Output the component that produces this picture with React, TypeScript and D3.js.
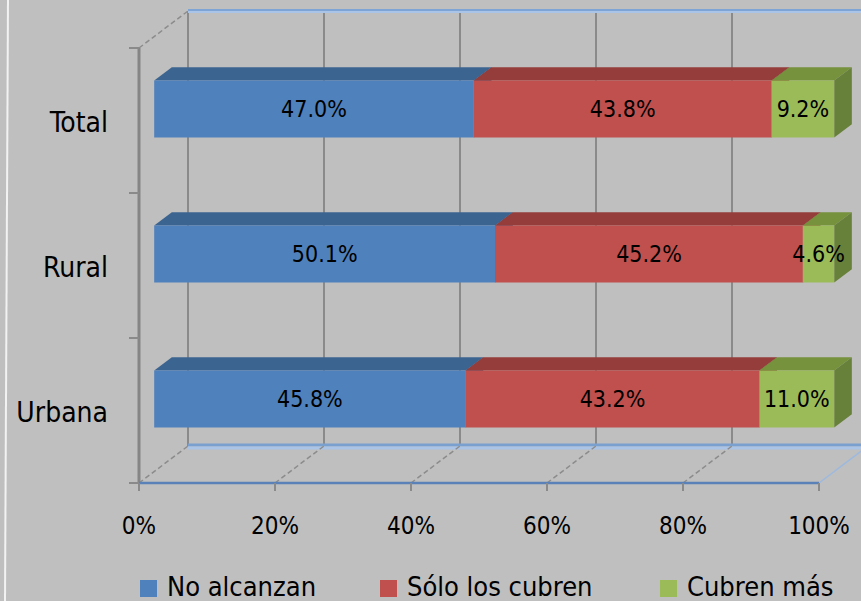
import React from 'react'
import * as d3 from 'd3'

const categories = ['Total', 'Rural', 'Urbana']
const seriesNames = ['No alcanzan', 'Sólo los cubren', 'Cubren más']
const noAlcanzan = [47.0, 50.1, 45.8]
const soloCubren = [43.8, 45.2, 43.2]
const cubrenMas = [9.2, 4.6, 11.0]
const xTicks = [0, 0.2, 0.4, 0.6, 0.8, 1]

const keys = ['a', 'b', 'c']
const front = ['#4f81bd', '#c0504d', '#9bbb59']
const topCol = ['#3c6491', '#943d3a', '#76923c']
const sideCol = ['#355a84', '#82332f', '#67803a']

const W = 861
const H = 601
// projection of the depth axis
const DX = 49
const DY = -37
const Z0 = 0.31
const Z1 = 0.67
const FONT = "'DejaVu Sans Condensed', 'DejaVu Sans', sans-serif"

const App = () => {
    const x = d3.scaleLinear().domain([0, 1]).range([139, 819])
    const y = d3.scaleBand()
        .domain(categories)
        .range([48, 483])
        .paddingInner(0.607)
        .paddingOuter(0.3035)
    const yCat = d3.scaleBand().domain(categories).range([48, 483])

    const rows = categories.map((cat, i) => ({ cat, a: noAlcanzan[i], b: soloCubren[i], c: cubrenMas[i] }))
    const series = d3.stack().keys(keys).offset(d3.stackOffsetExpand)(rows)
    const raw = [noAlcanzan, soloCubren, cubrenMas]

    const pt = (px, py, z) => [px + z * DX, py + z * DY]
    const poly = pts => pts.map(p => p.join(',')).join(' ')
    const pct = v => d3.format('.1f')(v) + '%'

    const gridTop = 48 + DY
    const gridBottom = 483 + DY

    return (
        <svg width={W} height={H} style={{ position: 'absolute', left: 0, top: 0, background: '#bfbfbf' }} fontFamily={FONT} fontStretch="condensed">
            <rect x={0} y={0} width={W} height={H} fill="#bfbfbf" />
            <line x1={8} y1={0} x2={5} y2={H} stroke="#f2f2f2" strokeWidth={2} />

            {/* back wall gridlines */}
            {xTicks.map(t => (
                <line key={'g' + t} x1={x(t) + DX} x2={x(t) + DX} y1={gridTop} y2={gridBottom} stroke="#8a8a8a" strokeWidth={2} />
            ))}
            {/* back wall top edge */}
            <line x1={x(0) + DX} x2={W + 20} y1={gridTop - 1} y2={gridTop - 1} stroke="#7ea4d6" strokeWidth={2} />
            <line x1={x(0) + DX} x2={W + 20} y1={gridTop + 1} y2={gridTop + 1} stroke="#a9c4e6" strokeWidth={2} />
            {/* back floor edge */}
            <line x1={x(0) + DX} x2={W + 20} y1={gridBottom - 1} y2={gridBottom - 1} stroke="#7aa0d0" strokeWidth={3} />
            <line x1={x(0) + DX} x2={W + 20} y1={gridBottom + 2} y2={gridBottom + 2} stroke="#a9c4e6" strokeWidth={3} />

            {/* floor diagonals */}
            {xTicks.map(t => (
                <line key={'d' + t} x1={x(t)} y1={483} x2={x(t) + DX} y2={gridBottom}
                    stroke={t === 1 ? '#9db9de' : '#8c8c8c'} strokeWidth={1.5} strokeDasharray={t === 1 ? null : '5 3'} />
            ))}
            {/* left wall */}
            <line x1={x(0)} y1={48} x2={x(0) + DX} y2={gridTop} stroke="#8c8c8c" strokeWidth={1.5} strokeDasharray="5 3" />
            <line x1={x(0)} x2={x(0)} y1={48} y2={484} stroke="#858585" strokeWidth={3} />
            {[48, 193, 338, 483].map(v => (
                <line key={'lt' + v} x1={129} x2={139} y1={v} y2={v} stroke="#8a8a8a" strokeWidth={2} />
            ))}
            {/* front floor edge + ticks */}
            <line x1={x(0)} x2={x(1)} y1={483} y2={483} stroke="#5b82b8" strokeWidth={2.5} />
            {xTicks.map(t => (
                <line key={'bt' + t} x1={x(t)} x2={x(t)} y1={483} y2={491} stroke="#8a8a8a" strokeWidth={2} />
            ))}

            {/* bars */}
            {categories.map((cat, ci) => {
                const yt = y(cat)
                const yb = yt + y.bandwidth()
                return (
                    <g key={cat}>
                        {series.map((s, si) => {
                            const x0 = x(s[ci][0])
                            const x1 = x(s[ci][1])
                            return (
                                <g key={s.key}>
                                    <polygon points={poly([pt(x0, yt, Z0), pt(x1, yt, Z0), pt(x1, yt, Z1), pt(x0, yt, Z1)])} fill={topCol[si]} />
                                    <polygon points={poly([pt(x1, yt, Z0), pt(x1, yt, Z1), pt(x1, yb, Z1), pt(x1, yb, Z0)])} fill={sideCol[si]} />
                                    <polygon points={poly([pt(x0, yt, Z0), pt(x1, yt, Z0), pt(x1, yb, Z0), pt(x0, yb, Z0)])} fill={front[si]} />
                                </g>
                            )
                        })}
                        {series.map((s, si) => {
                            const cx = (x(s[ci][0]) + x(s[ci][1])) / 2 + Z0 * DX
                            const cy = (yt + yb) / 2 + Z0 * DY
                            return (
                                <text key={'l' + s.key} x={cx} y={cy} textAnchor="middle" dominantBaseline="central" fontSize={23} fill="#000">
                                    {pct(raw[si][ci])}
                                </text>
                            )
                        })}
                    </g>
                )
            })}

            {/* category labels */}
            {categories.map(cat => (
                <text key={'c' + cat} x={108} y={yCat(cat) + yCat.bandwidth() / 2 + 2} textAnchor="end" dominantBaseline="central" fontSize={28} fill="#000">
                    {cat}
                </text>
            ))}

            {/* x tick labels */}
            {xTicks.map(t => (
                <text key={'xl' + t} x={x(t)} y={534} textAnchor="middle" fontSize={24} fill="#000">
                    {d3.format('.0%')(t)}
                </text>
            ))}

            {/* legend */}
            {seriesNames.map((name, i) => {
                const lx = [140, 380, 660][i]
                return (
                    <g key={name}>
                        <rect x={lx} y={580} width={17} height={17} fill={front[i]} />
                        <text x={lx + 27} y={596} fontSize={27} fill="#000">{name}</text>
                    </g>
                )
            })}
        </svg>
    )
}

export default App
